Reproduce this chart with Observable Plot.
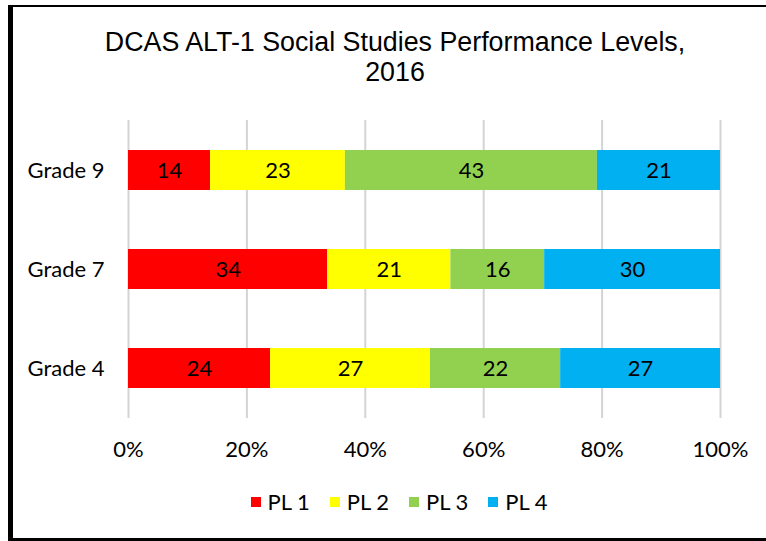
<!DOCTYPE html>
<html><head><meta charset="utf-8">
<script src="https://cdn.jsdelivr.net/npm/d3@7"></script>
<script src="https://cdn.jsdelivr.net/npm/@observablehq/plot@0.6"></script>
<style>
body{margin:0;background:#fff;width:766px;height:541px;overflow:hidden;position:relative;}
#frame{position:absolute;left:8px;top:5px;width:780px;height:536px;border-left:5px solid #000;border-top:2px solid #000;border-bottom:3px solid #000;box-sizing:border-box;}
#title{position:absolute;left:24px;width:742px;top:27px;text-align:center;font-family:"Liberation Sans",Arial,sans-serif;font-size:26.8px;line-height:30px;color:#000;}
#chart{position:absolute;left:0;top:0;}
#legend{position:absolute;left:0;width:798px;top:488px;display:flex;justify-content:center;gap:20px;font-family:Lato,sans-serif;font-size:22px;color:#000;}
.item{display:flex;align-items:center;gap:7px;}
.sw{width:10px;height:10px;display:inline-block;}
</style></head>
<body>
<div id="frame"></div>
<div id="title">DCAS ALT-1 Social Studies Performance Levels,<br>2016</div>
<div id="chart"></div>
<div id="legend"></div>
<script>
const grades = ["Grade 9", "Grade 7", "Grade 4"];
const levels = ["PL 1", "PL 2", "PL 3", "PL 4"];
const colors = ["#FF0000", "#FFFF00", "#92D050", "#00B0F0"];
const pl1 = [14, 34, 24];
const pl2 = [23, 21, 27];
const pl3 = [43, 16, 22];
const pl4 = [21, 30, 27];
const xTicks = [0, 0.2, 0.4, 0.6, 0.8, 1];
const xTickLabels = ["0%", "20%", "40%", "60%", "80%", "100%"];

const series = [pl1, pl2, pl3, pl4];
const data = [];
grades.forEach((g, gi) => levels.forEach((l, li) => data.push({grade: g, level: l, value: series[li][gi]})));

const chart = Plot.plot({
  width: 766, height: 470,
  marginTop: 120, marginBottom: 52, marginLeft: 128, marginRight: 46,
  style: {fontFamily: "Lato, sans-serif", fontSize: "22px", color: "#000", background: "transparent"},
  x: {domain: [0, 1], ticks: xTicks, tickFormat: d => xTickLabels[xTicks.indexOf(d)], tickSize: 0, tickPadding: 24, label: null},
  y: {domain: grades, paddingInner: 0.6, paddingOuter: 0.3, tickSize: 0, tickPadding: 24, label: null},
  color: {domain: levels, range: colors},
  marks: [
    Plot.gridX(xTicks, {stroke: "#d4d4d4", strokeOpacity: 1, strokeWidth: 2}),
    Plot.barX(data, Plot.stackX({offset: "normalize", x: "value", y: "grade", fill: "level", z: "level"})),
    Plot.text(data, Plot.stackX({offset: "normalize", x: "value", y: "grade", z: "level", text: d => String(d.value), fill: "#000", fontSize: 22})),
    Plot.axisX({ticks: xTicks, tickFormat: d => xTickLabels[xTicks.indexOf(d)], tickSize: 0, tickPadding: 23, fontSize: 22}),
    Plot.axisY({tickSize: 0, tickPadding: 24, fontSize: 22})
  ]
});
document.getElementById("chart").appendChild(chart);

const legend = document.getElementById("legend");
levels.forEach((l, i) => {
  const it = document.createElement("div");
  it.className = "item";
  it.innerHTML = `<span class="sw" style="background:${colors[i]}"></span><span>${l}</span>`;
  legend.appendChild(it);
});
</script>
</body></html>
